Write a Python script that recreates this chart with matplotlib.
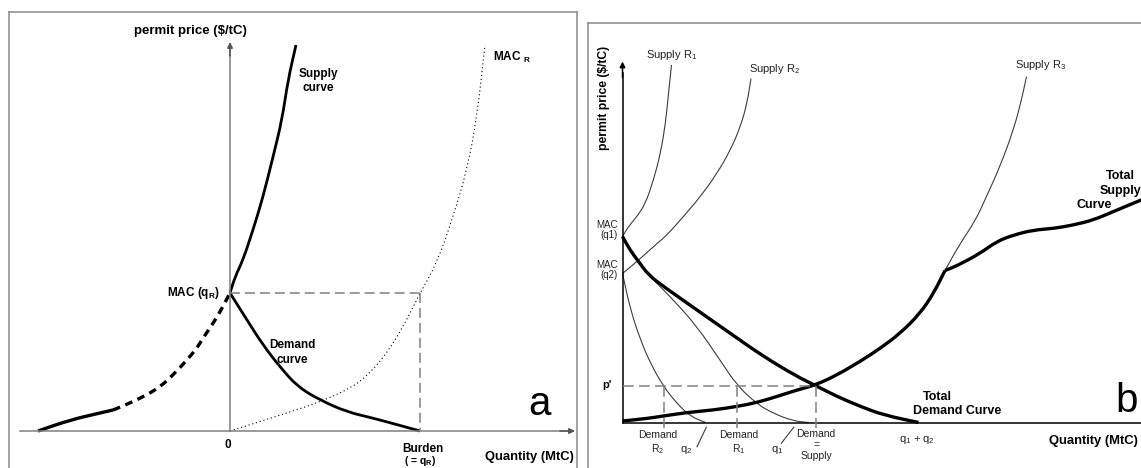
import matplotlib
matplotlib.use("Agg")
import matplotlib.pyplot as plt
from matplotlib.path import Path
from matplotlib.patches import PathPatch

plt.rcParams['font.family'] = ['Liberation Sans', 'DejaVu Sans']
plt.rcParams['mathtext.default'] = 'regular'

# Panel a: values in diagram units, quantity from the origin, price above the axis
supply_a_q = [0, 5, 13, 23, 33, 43, 52, 58, 66]
supply_a_p = [138, 154, 171, 201, 234, 274, 311, 351, 386]

demand_a_q = [0, 17, 33, 50, 68, 90, 117, 143, 190]
demand_a_p = [138, 111, 86, 64, 44, 31, 19, 13, 0]

left_solid_q = [-192, -160, -130, -117]
left_solid_p = [0, 11, 18, 21]
left_dash_q = [-117, -107, -87, -70, -57, -43, -33, -27, -18, -10, 0]
left_dash_p = [21, 25, 34, 44, 56, 71, 83, 93, 106, 119, 138]

mac_r_q = [0, 57, 90, 123, 140, 157, 173, 190, 207, 223, 237, 247, 255]
mac_r_p = [0, 18, 29, 44, 58, 78, 104, 138, 168, 214, 261, 314, 386]

mac_qr = 138      # MAC(qR) price
burden = 190      # Burden (= qR)

# Panel b
supply_r1_q = [0, 6, 14.5, 23, 31, 38, 43, 46, 49]
supply_r1_p = [186, 196, 206, 219, 242.5, 269, 299, 329, 357.5]

supply_r2_q = [0, 14.5, 34.5, 44.5, 61, 78, 94.5, 108, 118, 124.5, 128.5]
supply_r2_p = [149, 161, 179, 187.5, 206, 226, 249, 272.5, 296, 319, 344]

supply_r3_q = [322.5, 337.5, 352.5, 364, 377.5, 391, 399, 404]
supply_r3_p = [152, 179, 201, 226, 256, 292.5, 322.5, 346]

total_supply_q = [0, 24.5, 41, 64.5, 91, 114.5, 134.5, 154.5, 174.5, 193, 214.5,
                  237.5, 257.5, 277.5, 297.5, 311, 322.5]
total_supply_p = [1.5, 4, 6.5, 10, 12.5, 16, 20, 26, 32.5, 37.5, 47.5,
                  61, 74, 89, 109, 129, 152]
# upper branch after the kink
total_supply2_q = [322.5, 334, 357.5, 374, 391, 411, 431, 451, 471, 491, 518.5, 530]
total_supply2_p = [152, 156.5, 169, 181, 187.5, 192.5, 194, 197.5, 202.5, 211, 222.5, 227]

total_demand_q = [0, 7.5, 16, 26, 41, 74.5, 108, 141, 174.5, 193, 214.5, 238, 261, 296]
total_demand_p = [186, 172.5, 161, 147.5, 136, 112.5, 89, 66, 46, 37, 26, 16, 7.5, 0]

demand_r1_q = [0, 7.5, 16, 26, 51, 74.5, 97.5, 114.5, 134.5, 151, 171, 186]
demand_r1_p = [186, 172.5, 161, 147.5, 122.5, 96, 62.5, 37, 18.5, 9, 1.5, 0]

demand_r2_q = [0, 8, 18, 28, 41, 54.5, 68, 83]
demand_r2_p = [149, 112.5, 82.5, 59, 36, 19, 6, 0]

p_prime = 37
demand_r2_at_p = 41
demand_r1_at_p = 114.5
equilibrium_q = 193
mac_q1 = 186
mac_q2 = 149

W, H = 1141, 468
fig = plt.figure(figsize=(W / 100, H / 100), dpi=100)

frame_col = '#8a8a8a'
grey = '#7f7f7f'
thin = '#3c3c3c'


def make_axes(left, top, right, bottom, x0, y0):
    ax = fig.add_axes([left / W, 1 - bottom / H, (right - left) / W, (bottom - top) / H])
    ax.set_xlim(left - x0, right - x0)
    ax.set_ylim(y0 - bottom, y0 - top)
    ax.set_xticks([])
    ax.set_yticks([])
    for s in ['right', 'bottom']:
        ax.spines[s].set_visible(False)
    for s in ['left', 'top']:
        ax.spines[s].set_color(frame_col)
        ax.spines[s].set_linewidth(1.1)
    ax.patch.set_alpha(0)
    return ax


def curve(ax, q, p, **kw):
    # smooth drawing through the read points (quadratic pieces between midpoints)
    pts = list(zip(q, p))
    verts = [pts[0]]
    codes = [Path.MOVETO]
    for i in range(1, len(pts) - 1):
        mid = ((pts[i][0] + pts[i + 1][0]) / 2, (pts[i][1] + pts[i + 1][1]) / 2)
        if i == 1:
            verts.append(((pts[0][0] + pts[1][0]) / 2, (pts[0][1] + pts[1][1]) / 2))
            codes.append(Path.LINETO)
        verts += [pts[i], mid]
        codes += [Path.CURVE3, Path.CURVE3]
    verts.append(pts[-1])
    codes.append(Path.LINETO)
    kw.setdefault('capstyle', 'butt')
    ax.add_patch(PathPatch(Path(verts, codes), fill=False, joinstyle='round', **kw))


# ---------- panel a ----------
ax_a = make_axes(9, 12, 577, 470, 230, 431)
ax_a.spines['right'].set_visible(True)
ax_a.spines['right'].set_color(frame_col)
ax_a.spines['right'].set_linewidth(1.1)

arrow_a = dict(arrowstyle='-|>', color='#555555', lw=1.1, mutation_scale=8, shrinkA=0, shrinkB=0)
ax_a.plot([-210, 343], [0, 0], color=grey, lw=1.1)
ax_a.annotate('', xy=(345, 0), xytext=(330, 0), arrowprops=arrow_a)
ax_a.plot([0, 0], [0, 387], color=grey, lw=1.1)
ax_a.annotate('', xy=(0, 389), xytext=(0, 375), arrowprops=arrow_a)

ax_a.plot([0, burden], [mac_qr, mac_qr], color=grey, lw=1.1, ls=(0, (6.5, 3.3)))
ax_a.plot([burden, burden], [mac_qr, 0], color=grey, lw=1.1, ls=(0, (6.5, 3.3)))

curve(ax_a, mac_r_q, mac_r_p, edgecolor='black', lw=0.8, ls=(0, (1, 2.5)))
curve(ax_a, supply_a_q, supply_a_p, edgecolor='black', lw=2.0)
curve(ax_a, demand_a_q, demand_a_p, edgecolor='black', lw=2.0)
curve(ax_a, left_solid_q, left_solid_p, edgecolor='black', lw=2.4)
curve(ax_a, left_dash_q, left_dash_p, edgecolor='black', lw=2.4, ls=(0, (2.3, 1.7)))

bold = dict(fontweight='bold', color='black')
ax_a.text(-40, 400, 'permit price ($/tC)', ha='center', va='center', fontsize=9.5, **bold)
ax_a.text(88, 350, 'Supply\ncurve', ha='center', va='center', fontsize=8.5, linespacing=1.25, **bold)
ax_a.text(62.5, 78.5, 'Demand\ncurve', ha='center', va='center', fontsize=8.5, linespacing=1.25, **bold)
ax_a.text(-10.5, mac_qr, r'MAC (q$_{\mathregular{R}}$)', ha='right', va='center', fontsize=8.5, **bold)
ax_a.text(263, 374, r'MAC $_{\mathregular{R}}$', ha='left', va='center', fontsize=8.5, **bold)
ax_a.text(-2, -14, '0', ha='center', va='center', fontsize=8.5, **bold)
ax_a.text(192.5, -18.5, 'Burden', ha='center', va='center', fontsize=8.5, **bold)
ax_a.text(190.5, -30.5, r'( = q$_{\mathregular{R}}$)', ha='center', va='center', fontsize=7.5, **bold)
ax_a.text(299, -26, 'Quantity (MtC)', ha='center', va='center', fontsize=9.4, **bold)
ax_a.text(298, 16, 'a', ha='left', va='baseline', fontsize=29, color='black')

# ---------- panel b ----------
ax_b = make_axes(588, 22.7, 1145, 470, 622.5, 422.5)

ax_b.plot([0, 520], [0, 0], color='black', lw=1.1)
ax_b.plot([0, 0], [0, 350], color='black', lw=1.1)
ax_b.annotate('', xy=(0, 361), xytext=(0, 345),
              arrowprops=dict(arrowstyle='-|>', color='black', lw=1.1, mutation_scale=8,
                              shrinkA=0, shrinkB=0))

dash_b = dict(color=grey, lw=1.1, ls=(0, (7, 3.5)))
ax_b.plot([0, equilibrium_q], [p_prime, p_prime], **dash_b)
for qv in [demand_r2_at_p, demand_r1_at_p, equilibrium_q]:
    ax_b.plot([qv, qv], [p_prime, -5], **dash_b)

for q, p in [(supply_r1_q, supply_r1_p), (supply_r2_q, supply_r2_p),
             (supply_r3_q, supply_r3_p), (demand_r1_q, demand_r1_p),
             (demand_r2_q, demand_r2_p)]:
    curve(ax_b, q, p, edgecolor=thin, lw=0.8)
curve(ax_b, total_supply_q, total_supply_p, edgecolor='black', lw=2.4)
curve(ax_b, total_supply2_q, total_supply2_p, edgecolor='black', lw=2.4)
curve(ax_b, total_demand_q, total_demand_p, edgecolor='black', lw=2.4)

reg = dict(color='#222222')
ax_b.text(-18.2, 324.5, 'permit price ($/tC)', rotation=90, ha='center', va='center', fontsize=8.7, **bold)
ax_b.text(23.8, 367.5, r'Supply R$_{\mathregular{1}}$', ha='left', va='center', fontsize=8, **reg)
ax_b.text(126.2, 353.5, r'Supply R$_{\mathregular{2}}$', ha='left', va='center', fontsize=8, **reg)
ax_b.text(392.5, 357.5, r'Supply R$_{\mathregular{3}}$', ha='left', va='center', fontsize=8, **reg)
ax_b.text(-5, mac_q1 + 6.5, 'MAC\n(q1)', ha='right', va='center', fontsize=7, linespacing=0.95, **reg)
ax_b.text(-5, mac_q2 + 3.5, 'MAC\n(q2)', ha='right', va='center', fontsize=7, linespacing=0.95, **reg)
ax_b.text(-15.2, p_prime, "p'", ha='center', va='center', fontsize=8, **bold)

ax_b.text(34.8, -20.2, 'Demand\n' + r'R$_{\mathregular{2}}$', ha='center', va='center', fontsize=7.5, linespacing=1.2, **reg)
ax_b.text(63.5, -27, r'q$_{\mathregular{2}}$', ha='center', va='center', fontsize=8, **reg)
ax_b.plot([74.5, 83.8], [-24.2, -4.8], color=thin, lw=0.8)
ax_b.text(115.8, -20.2, 'Demand\n' + r'R$_{\mathregular{1}}$', ha='center', va='center', fontsize=7.5, linespacing=1.2, **reg)
ax_b.text(154.5, -27, r'q$_{\mathregular{1}}$', ha='center', va='center', fontsize=8, **reg)
ax_b.plot([158.8, 171.2], [-20.8, -4.8], color=thin, lw=0.8)
ax_b.text(193.5, -22.7, 'Demand\n=\nSupply', ha='center', va='center', fontsize=7.5, linespacing=1.15, **reg)
ax_b.text(294.5, -17.5, r'q$_{\mathregular{1}}$ + q$_{\mathregular{2}}$', ha='center', va='center', fontsize=8, **reg)
ax_b.text(515.5, -18.2, 'Quantity (MtC)', ha='right', va='center', fontsize=9.4, **bold)

ax_b.text(315, 25.2, 'Total', ha='center', va='center', fontsize=9, **bold)
ax_b.text(334.5, 11.5, 'Demand Curve', ha='center', va='center', fontsize=9, **bold)
ax_b.text(497.5, 246.5, 'Total', ha='center', va='center', fontsize=9, **bold)
ax_b.text(477.5, 231.8, 'Supply', ha='left', va='center', fontsize=9, **bold)
ax_b.text(471.5, 217.5, 'Curve', ha='center', va='center', fontsize=9, **bold)
ax_b.text(492.5, 10.8, 'b', ha='left', va='baseline', fontsize=29, color='black')

fig.savefig('out.png', dpi=100)
